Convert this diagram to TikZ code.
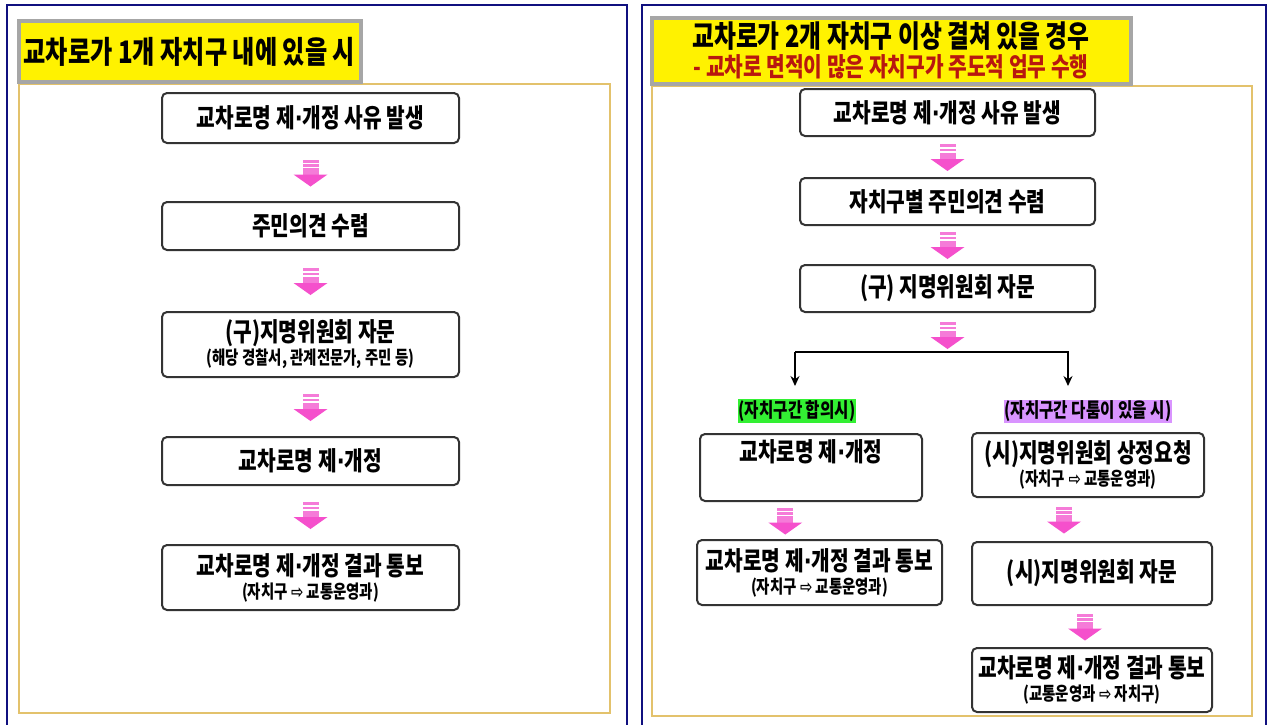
\documentclass[tikz,border=0pt]{standalone}
\usepackage{fontspec}
\usetikzlibrary{calc,arrows.meta}
\newfontfamily\kr{Noto Sans CJK KR}[FakeStretch=0.78]
\newfontfamily\sym{DejaVu Sans}[FakeStretch=0.8]
\definecolor{navyB}{HTML}{10107F}
\definecolor{tanB}{HTML}{E3C26C}
\definecolor{pinkA}{HTML}{F57BD8}
\definecolor{pinkB}{HTML}{F550CC}
\definecolor{titleRed}{HTML}{B8180F}
\definecolor{hlGreen}{HTML}{33F033}
\definecolor{hlViolet}{HTML}{D994FF}
\newcommand{\ra}{{\sym ⇨}}
\newcommand{\md}{{\sym\bfseries ·}}
\newcommand{\subtxt}{\kr\bfseries\fontsize{18.5}{20}\selectfont}
\tikzset{
  stepbox/.style={draw=black!80, line width=2pt, rounded corners=5pt, fill=white,
    align=center, inner sep=2pt, font=\kr\bfseries\fontsize{26}{27}\selectfont},
  titlebox/.style={fill=yellow, draw=black!35, line width=4pt, inner sep=0pt},
  panel/.style={draw=navyB, line width=2.5pt},
  inner/.style={draw=tanB, line width=1.5pt},
  hl/.style={inner sep=1pt, font=\kr\bfseries\fontsize{20}{21}\selectfont},
  pinkarrow/.pic={
    \fill[pinkA] (-8,-13) rectangle (8,3);
    \fill[pinkB] (-17,2) -- (17,2) -- (0,14) -- cycle;
    \draw[white, line width=1.3pt] (-8,-9) -- (8,-9) (-8,-5) -- (8,-5);
  }
}
\begin{document}
\begin{tikzpicture}[x=1pt,y=-1pt]
\useasboundingbox (0,0) rectangle (1267,724);
\fill[white] (0,0) rectangle (1267,724);
% panels
\draw[panel] (7,5) rectangle (627,730);
\draw[panel] (642,5) rectangle (1266,730);
\draw[inner] (19,84) rectangle (610,713);
\draw[inner] (652,86) rectangle (1252,716);
% titles
\node[titlebox, minimum width=342pt, minimum height=61pt] (tl) at (190,51.5) {};
\node[font=\kr\bfseries\fontsize{31}{32}\selectfont, anchor=west] (tlt) at (20,52) {교차로가 1개 자치구 내에 있을 시};
\node[titlebox, minimum width=479pt, minimum height=66pt] (tr) at (891.5,51) {};
\node[font=\kr\bfseries\fontsize{30.5}{32}\selectfont] (tr1) at (891,36) {교차로가 2개 자치구 이상 결쳐 있을 경우};
\node[font=\kr\bfseries\fontsize{26}{27}\selectfont, text=titleRed] (tr2) at (891,67) {- 교차로 면적이 많은 자치구가 주도적 업무 수행};
% left column
\node[stepbox, minimum width=297pt, minimum height=50pt] (a1) at (310.5,118) {교차로명 제\md{}개정 사유 발생};
\node[stepbox, minimum width=297pt, minimum height=48pt] (a2) at (310.5,226) {주민의견 수렴};
\node[stepbox, minimum width=297pt, minimum height=65pt] (a3) at (310.5,344.5) {(구)지명위원회 자문\\[-4pt]{\subtxt (해당 경찰서, 관계전문가, 주민 등)}};
\node[stepbox, minimum width=297pt, minimum height=48pt] (a4) at (310.5,461) {교차로명 제\md{}개정};
\node[stepbox, minimum width=297pt, minimum height=65pt] (a5) at (310.5,577.5) {교차로명 제\md{}개정 결과 통보\\[-4pt]{\subtxt (자치구 \ra{} 교통운영과)}};
\foreach \p/\q in {a1/a2,a2/a3,a3/a4,a4/a5}
  \path ($(\p.south)!0.5!(\q.north)$) pic {pinkarrow};
% right column
\node[stepbox, minimum width=295pt, minimum height=47pt] (b1) at (947.5,112.5) {교차로명 제\md{}개정 사유 발생};
\node[stepbox, minimum width=295pt, minimum height=47pt] (b2) at (947.5,201.5) {자치구별 주민의견 수렴};
\node[stepbox, minimum width=295pt, minimum height=47pt] (b3) at (947.5,288.5) {(구) 지명위원회 자문};
\foreach \p/\q in {b1/b2,b2/b3}
  \path ($(\p.south)!0.5!(\q.north)$) pic {pinkarrow};
\coordinate (split) at (947.5,335);
\path (split) pic {pinkarrow};
\coordinate (hl0) at (795,352);
\coordinate (hr0) at (1068,352);
\coordinate (hl1) at (795,386);
\coordinate (hr1) at (1068,386);
\draw[line width=1.2pt, -{Stealth[length=10pt,width=9pt]}] (hl0) -- (hr0) -- (hr1);
\draw[line width=1.2pt, -{Stealth[length=10pt,width=9pt]}] (hl0) -- (hl1);
\node[hl, fill=hlGreen] (gl) at (797,411) {(자치구간 합의시)};
\node[hl, fill=hlViolet] (vl) at (1088,411) {(자치구간 다툼이 있을 시)};
\node[stepbox, minimum width=222pt, minimum height=67pt, anchor=north, text depth=34pt] (c1) at (811,433) {교차로명 제\md{}개정};
\node[stepbox, minimum width=245pt, minimum height=65pt] (c2) at (819.5,572.5) {교차로명 제\md{}개정 결과 통보\\[-4pt]{\subtxt (자치구 \ra{} 교통운영과)}};
\path ($(c1.south)!0.5!(c2.north)+(-30,0)$) pic {pinkarrow};
\node[stepbox, minimum width=232pt, minimum height=64pt] (d1) at (1088,465) {(시)지명위원회 상정요청\\[-4pt]{\subtxt (자치구 \ra{} 교통운영과)}};
\node[stepbox, minimum width=240pt, minimum height=63pt] (d2) at (1092,573.5) {(시)지명위원회 자문};
\node[stepbox, minimum width=240pt, minimum height=64pt] (d3) at (1092,680) {교차로명 제\md{}개정 결과 통보\\[-4pt]{\subtxt (교통운영과 \ra{} 자치구)}};
\path ($(d1.south)!0.5!(d2.north)+(-26,0)$) pic {pinkarrow};
\path ($(d2.south)!0.5!(d3.north)+(-7,0)$) pic {pinkarrow};
\end{tikzpicture}
\end{document}
